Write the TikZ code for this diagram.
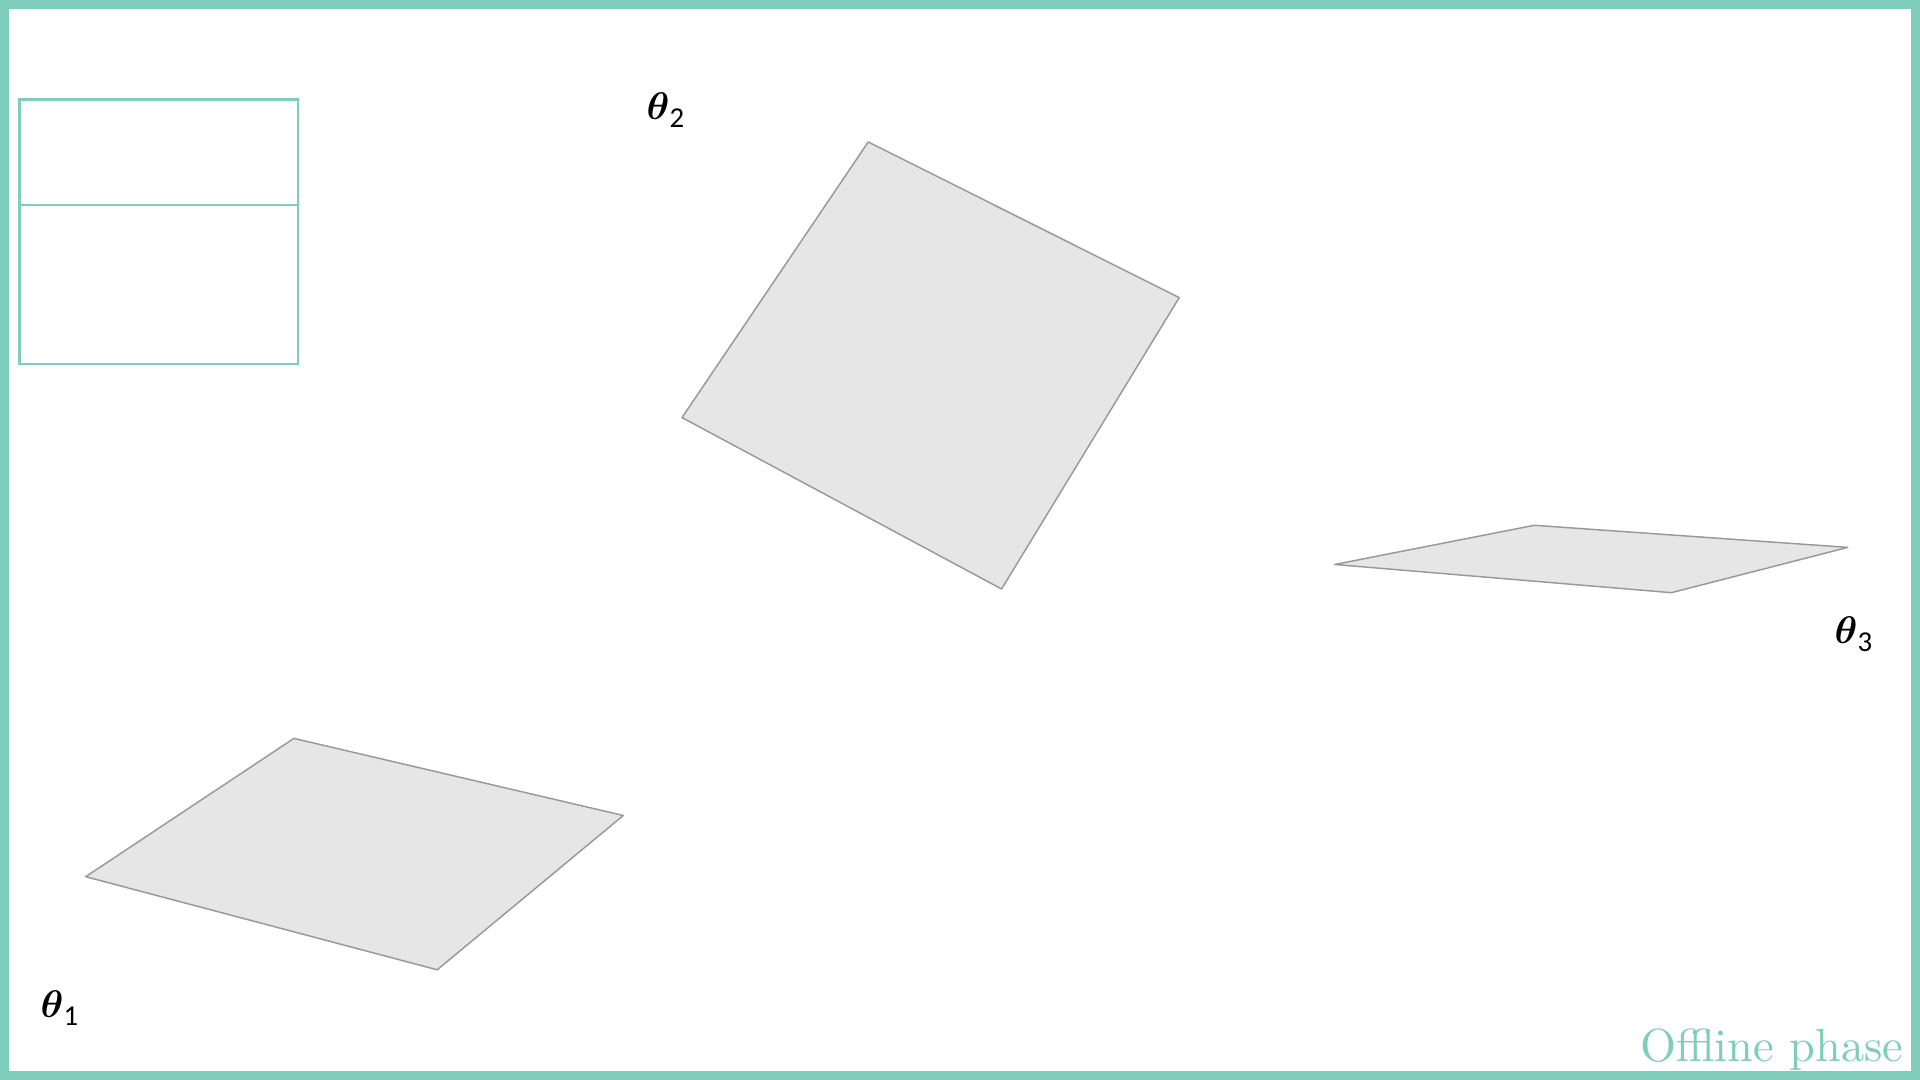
\documentclass[tikz,border=0pt]{standalone}
\usepackage{bm}
\usepackage{fontspec}
\newfontfamily\subfont{Carlito}
\newfontfamily\lmten{lmroman10-regular.otf}
\definecolor{teal1}{RGB}{127,205,187}
\definecolor{planefill}{RGB}{230,230,230}
\definecolor{planeline}{RGB}{153,153,153}
\tikzset{
  plane/.style={fill=planefill,draw=planeline,line width=0.42pt,line join=round},
  boxline/.style={draw=teal1,line width=0.65pt},
  thlabel/.style={inner sep=0pt,anchor=base west,font=\fontsize{11}{12}\selectfont},
}
\newcommand{\thsub}[1]{$\bm{\theta}$\raisebox{-2pt}{\subfont\fontsize{8.2}{9}\selectfont #1}}
\begin{document}
\begin{tikzpicture}[x=0.01cm,y=-0.01cm]
\useasboundingbox (0,0) rectangle (1920,1080);
\draw[teal1,line width=0.09cm] (4.5,4.5) rectangle (1915.5,1075.5);
% legend box
\draw[boxline] (19.5,99.5) rectangle (298,364);
\draw[boxline] (19.5,205) -- (298,205);
% planes
\draw[plane] (85.7,876.7) -- (293.9,738.4) -- (623.3,815.5) -- (437.2,969.8) -- cycle;
\draw[plane] (682,417.6) -- (868.2,142) -- (1179.2,297.6) -- (1001.6,589) -- cycle;
\draw[plane] (1334.7,564.5) -- (1534.3,525.3) -- (1847.8,547.4) -- (1671.4,592.7) -- cycle;
% labels
\node[thlabel] (t1) at (40,1018) {\thsub{1}};
\node[thlabel] (t2) at (646,120) {\thsub{2}};
\node[thlabel] (t3) at (1834,644) {\thsub{3}};
\node[inner sep=0pt,anchor=base east,text=teal1,font=\lmten\fontsize{13.2}{14}\selectfont] (off) at (1904,1062) {Offline phase};
\end{tikzpicture}
\end{document}
